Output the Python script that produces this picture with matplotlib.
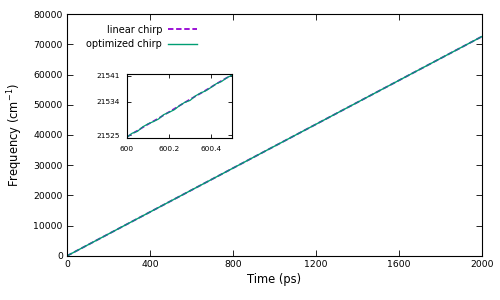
import matplotlib
matplotlib.use("Agg")
import matplotlib.pyplot as plt

# main traces (ps, cm^-1)
time_ps = [0, 400, 800, 1200, 1600, 2000]
linear_chirp = [0, 14520, 29040, 43560, 58080, 72600]
optimized_chirp = [0, 14520, 29040, 43560, 58080, 72600]

# zoomed window around 600 ps
inset_time = [600.00, 600.05, 600.10, 600.15, 600.20, 600.25,
              600.30, 600.35, 600.40, 600.45, 600.50]
inset_linear = [21524.6, 21526.3, 21528.0, 21529.6, 21531.3, 21533.0,
                21534.7, 21536.3, 21538.0, 21539.7, 21541.3]
inset_opt_time = [600.000, 600.025, 600.050, 600.075, 600.100, 600.125,
                  600.150, 600.175, 600.200, 600.225, 600.250, 600.275,
                  600.300, 600.325, 600.350, 600.375, 600.400, 600.425,
                  600.450, 600.475, 600.500]
inset_optimized = [21524.5, 21525.6, 21526.1, 21527.3, 21528.1, 21528.7,
                   21529.4, 21530.6, 21531.2, 21531.9, 21533.0, 21533.9,
                   21534.4, 21535.6, 21536.4, 21537.0, 21537.9, 21538.9,
                   21539.5, 21540.5, 21541.2]

xticks = [0, 400, 800, 1200, 1600, 2000]
yticks = [0, 10000, 20000, 30000, 40000, 50000, 60000, 70000, 80000]
inset_xticks = [600, 600.2, 600.4]
inset_xlabels = ["600", "600.2", "600.4"]
inset_yticks = [21525, 21534, 21541]

PURPLE = "#9400D3"
TEAL = "#009E73"

fig = plt.figure(figsize=(5, 3), dpi=100)
ax = fig.add_axes([0.134, 0.147, 0.830, 0.806])
ax.plot(time_ps, linear_chirp, color=PURPLE, linestyle=(0, (3, 1.5)),
        linewidth=1.3, label="linear chirp")
ax.plot(time_ps, optimized_chirp, color=TEAL, linewidth=1.0,
        label="optimized chirp")
ax.set_xlim(0, 2000)
ax.set_ylim(0, 80000)
ax.set_xticks(xticks)
ax.set_yticks(yticks)
ax.tick_params(direction="in", length=4, width=0.6, top=True, right=True,
               labelsize=6.7, pad=3)
ax.set_xlabel("Time (ps)", fontsize=8.3, labelpad=3)
ax.set_ylabel("Frequency (cm$^{-1}$)", fontsize=8.3, labelpad=6)
for s in ax.spines.values():
    s.set_linewidth(0.8)
ax.legend(loc="upper right", bbox_to_anchor=(0.33, 0.985), frameon=False,
          markerfirst=False, fontsize=7, handlelength=3.0,
          handletextpad=0.6, labelspacing=0.5, borderpad=0.2)

axi = fig.add_axes([0.254, 0.54, 0.210, 0.213])
axi.plot(inset_time, inset_linear, color=PURPLE, linestyle=(0, (3, 1.5)),
         linewidth=1.2)
axi.plot(inset_opt_time, inset_optimized, color=TEAL, linewidth=0.9)
axi.set_xlim(600, 600.5)
axi.set_ylim(21524.3, 21541.5)
axi.set_xticks(inset_xticks)
axi.set_xticklabels(inset_xlabels)
axi.set_yticks(inset_yticks)
axi.tick_params(axis="x", direction="in", length=3, width=0.6, top=True,
                labelsize=5.3, pad=6)
axi.tick_params(axis="y", direction="in", length=3, width=0.6, right=True,
                labelsize=5.3, pad=5)
for s in axi.spines.values():
    s.set_linewidth(0.8)

fig.savefig("out.png", dpi=100)
